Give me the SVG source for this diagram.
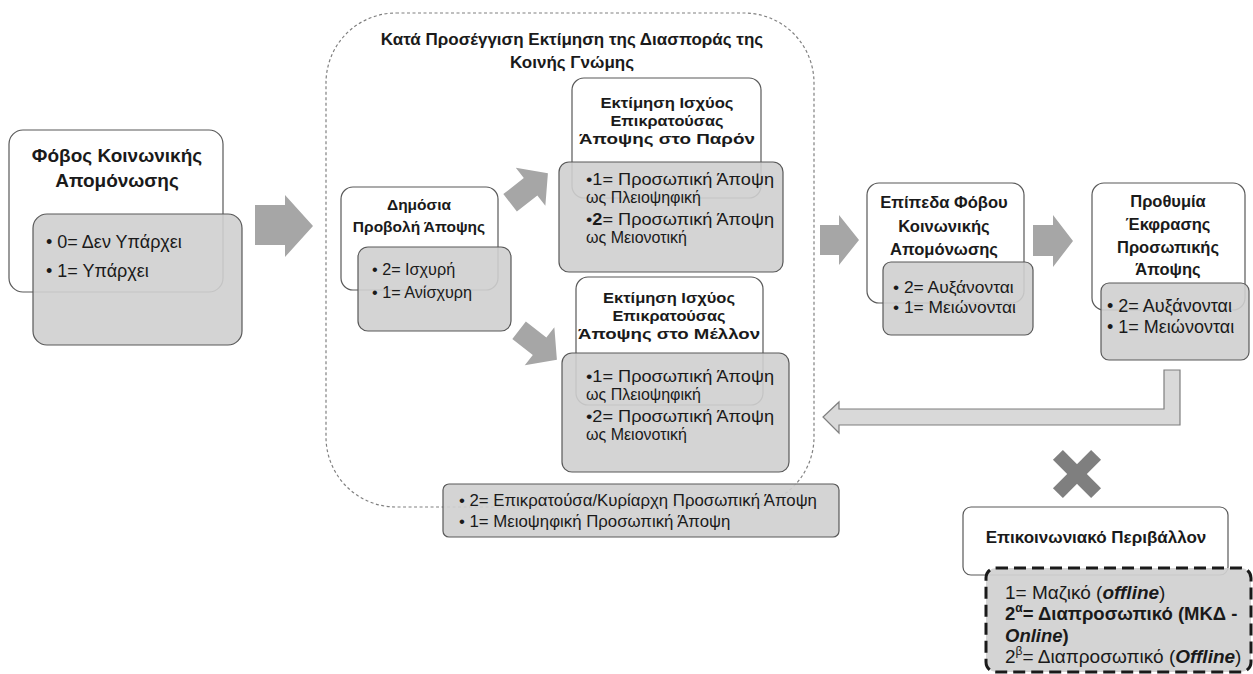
<svg xmlns="http://www.w3.org/2000/svg" width="1253" height="674" viewBox="0 0 1253 674">
<style>
text{font-family:"Liberation Sans","Noto Sans",sans-serif;fill:#1a1a1a}
.hd{font-weight:bold;text-anchor:middle}
.wb{fill:#fff;stroke:#595959;stroke-width:1.2}
.gb{fill:#cfcfcf;fill-opacity:0.9;stroke:#595959;stroke-width:1.2}
.ar{fill:#a6a6a6}
.bl{font-size:16px}
</style>
<rect width="1253" height="674" fill="#fff"/>
<g id="container">
<rect x="326" y="13" width="488" height="494" rx="70" fill="none" stroke="#808080" stroke-width="1.2" stroke-dasharray="3 2.5"/>
<text class="hd" x="572" y="45" font-size="17">Κατά Προσέγγιση Εκτίμηση της Διασποράς  της</text>
<text class="hd" x="572" y="68" font-size="17">Κοινής Γνώμης</text>
</g>
<g id="connectors">
<path class="ar" d="M255,205 H285 V195 L313,226 L285,257 V245 H255 Z"/>
<path class="ar" transform="translate(529,188) rotate(-38)" d="M-24,-11 H2 V-24 L24,0 L2,24 V11 H-24 Z"/>
<path class="ar" transform="translate(538,345) rotate(38)" d="M-24,-11 H2 V-24 L24,0 L2,24 V11 H-24 Z"/>
<path class="ar" d="M820,225 H839 V215 L859,240 L839,265 V255 H820 Z"/>
<path class="ar" d="M1033,225 H1053 V215 L1073,241 L1053,267 V256 H1033 Z"/>
<path d="M1164,370 H1180 V425 H839 V433 L823,417 L839,402 V409 H1164 Z" fill="#d9d9d9" stroke="#7f7f7f" stroke-width="1.2"/>
<g transform="translate(1077,474) rotate(45)" fill="#7f7f7f">
<rect x="-27" y="-7" width="54" height="14"/>
<rect x="-7" y="-27" width="14" height="54"/>
</g>
</g>
<g id="n1">
<rect class="wb" x="9" y="130" width="214" height="162" rx="14" stroke="#404040"/>
<text class="hd" x="117" y="162" font-size="19">Φόβος Κοινωνικής</text>
<text class="hd" x="117" y="187" font-size="19">Απομόνωσης</text>
<rect class="gb" x="33" y="214" width="209" height="131" rx="14"/>
<text x="46" y="248" font-size="18">• 0= Δεν Υπάρχει</text>
<text x="46" y="277" font-size="18">• 1= Υπάρχει</text>
</g>
<g id="n2">
<rect class="wb" x="341" y="187" width="157" height="103" rx="12"/>
<text class="hd" x="419" y="210" font-size="15.5">Δημόσια</text>
<text class="hd" x="419" y="232" font-size="15.5">Προβολή Άποψης</text>
<rect class="gb" x="358" y="247" width="153" height="84" rx="10"/>
<text x="372" y="275" font-size="16.2">• 2= Ισχυρή</text>
<text x="372" y="298" font-size="16.2">• 1= Ανίσχυρη</text>
</g>
<g id="n3">
<rect class="wb" x="572" y="78" width="189" height="120" rx="12"/>
<text class="hd" x="667" y="108" font-size="15" textLength="133" lengthAdjust="spacingAndGlyphs">Εκτίμηση Ισχύος</text>
<text class="hd" x="667" y="126" font-size="15" textLength="113" lengthAdjust="spacingAndGlyphs">Επικρατούσας</text>
<text class="hd" x="667" y="144" font-size="15" textLength="176" lengthAdjust="spacingAndGlyphs">Άποψης στο Παρόν</text>
<rect class="gb" x="559" y="162" width="224" height="110" rx="10"/>
<text class="bl" x="586" y="185" textLength="188" lengthAdjust="spacingAndGlyphs">•1= Προσωπική Άποψη</text>
<text class="bl" x="586" y="203">ως Πλειοψηφική</text>
<text class="bl" x="586" y="225" textLength="188" lengthAdjust="spacingAndGlyphs">•<tspan font-weight="bold">2</tspan>= Προσωπική Άποψη</text>
<text class="bl" x="586" y="243">ως Μειονοτική</text>
</g>
<g id="n4">
<rect class="wb" x="576" y="277" width="187" height="128" rx="12"/>
<text class="hd" x="669" y="303" font-size="15" textLength="132" lengthAdjust="spacingAndGlyphs">Εκτίμηση Ισχύος</text>
<text class="hd" x="669" y="321" font-size="15" textLength="113" lengthAdjust="spacingAndGlyphs">Επικρατούσας</text>
<text class="hd" x="669" y="339" font-size="15" textLength="182" lengthAdjust="spacingAndGlyphs">Άποψης στο Μέλλον</text>
<rect class="gb" x="562" y="353" width="227" height="119" rx="10"/>
<text class="bl" x="586" y="382" textLength="188" lengthAdjust="spacingAndGlyphs">•1= Προσωπική Άποψη</text>
<text class="bl" x="586" y="400">ως Πλειοψηφική</text>
<text class="bl" x="586" y="422" textLength="188" lengthAdjust="spacingAndGlyphs">•2= Προσωπική Άποψη</text>
<text class="bl" x="586" y="440">ως Μειονοτική</text>
</g>
<g id="n5">
<rect class="gb" x="443" y="484" width="396" height="53" rx="6" fill-opacity="1"/>
<text x="459" y="506" font-size="16.8">• 2= Επικρατούσα/Κυρίαρχη Προσωπική Άποψη</text>
<text x="459" y="527" font-size="16.8">• 1= Μειοψηφική Προσωπική Άποψη</text>
</g>
<g id="n6">
<rect class="wb" x="867" y="183" width="157" height="120" rx="12"/>
<text class="hd" x="944" y="208" font-size="16.6">Επίπεδα Φόβου</text>
<text class="hd" x="944" y="232" font-size="16.6">Κοινωνικής</text>
<text class="hd" x="944" y="255" font-size="16.6">Απομόνωσης</text>
<rect class="gb" x="883" y="262" width="150" height="73" rx="8"/>
<text x="893" y="293" font-size="17.4">• 2= Αυξάνονται</text>
<text x="893" y="313" font-size="17.4">• 1= Μειώνονται</text>
</g>
<g id="n7">
<rect class="wb" x="1092" y="183" width="153" height="127" rx="12"/>
<text class="hd" x="1168" y="207" font-size="16.5">Προθυμία</text>
<text class="hd" x="1168" y="230" font-size="16.5">Έκφρασης</text>
<text class="hd" x="1168" y="253" font-size="16.5">Προσωπικής</text>
<text class="hd" x="1168" y="275" font-size="16.5">Άποψης</text>
<rect class="gb" x="1101" y="283" width="148" height="77" rx="8"/>
<text x="1107" y="312" font-size="18">• 2= Αυξάνονται</text>
<text x="1107" y="333" font-size="18">• 1= Μειώνονται</text>
</g>
<g id="n8">
<rect class="wb" x="963" y="507" width="265" height="68" rx="8"/>
<text class="hd" x="1096" y="543" font-size="17">Επικοινωνιακό Περιβάλλον</text>
<rect x="986" y="568" width="265" height="104" rx="10" fill="#d0d0d0" fill-opacity="0.92" stroke="#1a1a1a" stroke-width="3" stroke-dasharray="12 6"/>
<text x="1005" y="599" font-size="19">1= Μαζικό (<tspan font-weight="bold" font-style="italic">offline</tspan>)</text>
<text x="1005" y="620" font-size="18.5" font-weight="bold">2<tspan font-size="12" dy="-8">α</tspan><tspan dy="8">= Διαπροσωπικό (ΜΚΔ -</tspan></text>
<text x="1005" y="642" font-size="18.5" font-weight="bold"><tspan font-style="italic">Online</tspan>)</text>
<text x="1005" y="663" font-size="19">2<tspan font-size="12" dy="-8">β</tspan><tspan dy="8">= Διαπροσωπικό (</tspan><tspan font-weight="bold" font-style="italic">Offline</tspan>)</text>
</g>
</svg>
